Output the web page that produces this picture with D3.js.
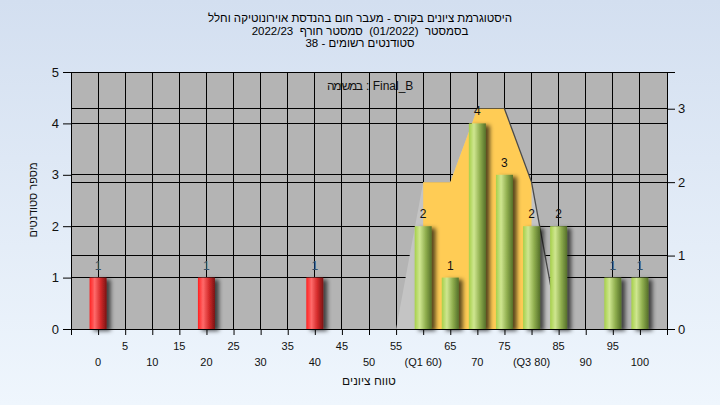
<!DOCTYPE html>
<html><head><meta charset="utf-8">
<script src="https://cdn.jsdelivr.net/npm/d3@7"></script>
<style>
body{margin:0;padding:0;overflow:hidden;}
svg{display:block;font-family:"Liberation Sans",Arial,"DejaVu Sans",sans-serif;}
</style></head>
<body>
<svg id="chart" width="720" height="405"></svg>
<script>
// ---- data ----
const categories = [0,5,10,15,20,25,30,35,40,45,50,55,60,65,70,75,80,85,90,95,100];
const counts     = [1,0,0,0,1,0,0,0,1,0,0,0,2,1,4,3,2,2,0,1,1];
const tickLabels = ["0","5","10","15","20","25","30","35","40","45","50","55","(Q1 60)","65","70","75","(Q3 80)","85","90","95","100"];
const curveCats   = [55,60,65,70,75,80,85];
const curveValues = [0,2,2,3,3,2,0];
const leftTicks  = [0,1,2,3,4,5];
const rightTicks = [0,1,2,3];
const passMark = 55, q1 = 60, q3 = 80;
const titleLines = [
  "היסטוגרמת ציונים בקורס - מעבר חום בהנדסת אוירונוטיקה וחלל",
  "בסמסטר  (01/2022)  סמסטר חורף  2022/23",
  "סטודנטים רשומים - 38"
];
const innerLabelHe = "במשימה";
const innerLabelEn = ": Final_B";
const xTitle = "טווח ציונים";
const yTitle = "מספר סטודנטים";

// ---- layout ----
const L = 71, R = 667, T = 72, B = 329;
const svg = d3.select("#chart");
const defs = svg.append("defs");

const bg = defs.append("linearGradient").attr("id","bg").attr("x1",0).attr("y1",0).attr("x2",0).attr("y2",1);
bg.append("stop").attr("offset","0%").attr("stop-color","#d3dff0");
bg.append("stop").attr("offset","100%").attr("stop-color","#eff6fd");

function barGrad(id, stops){
  const g = defs.append("linearGradient").attr("id",id).attr("x1",0).attr("y1",0).attr("x2",1).attr("y2",0);
  stops.forEach(s=>g.append("stop").attr("offset",s[0]).attr("stop-color",s[1]));
}
barGrad("gRed",[["0%","#ff2020"],["30%","#ff6a6a"],["65%","#d42a2a"],["100%","#7a1414"]]);
barGrad("gGreen",[["0%","#a6d04a"],["30%","#cfe690"],["65%","#8fae4e"],["100%","#55702a"]]);

const f = defs.append("filter").attr("id","shadow").attr("x","-50%").attr("y","-20%").attr("width","200%").attr("height","140%");
f.append("feDropShadow").attr("dx",4).attr("dy",2).attr("stdDeviation",2).attr("flood-color","#000").attr("flood-opacity",0.65);

const clipQ = defs.append("clipPath").attr("id","clipQ");

svg.append("rect").attr("width",720).attr("height",405).attr("fill","url(#bg)");

const x = d3.scalePoint().domain(categories).range([L,R]).padding(1);
const yL = d3.scaleLinear().domain([0,5]).range([B,T]);
const yR = d3.scaleLinear().domain([0,3.5]).range([B,T]);

clipQ.append("rect").attr("x",x(q1)).attr("y",T).attr("width",x(q3)-x(q1)).attr("height",B-T);

// plot background
svg.append("rect").attr("x",L).attr("y",T).attr("width",R-L).attr("height",B-T).attr("fill","#b4b4b4");

// inner label (under the grid)
svg.append("text").attr("x",327).attr("y",90).attr("text-anchor","start").attr("font-size",12).attr("fill","#111")
  .attr("textLength",36).attr("lengthAdjust","spacing").text(innerLabelHe);
svg.append("text").attr("x",366).attr("y",90).attr("text-anchor","start").attr("font-size",12).attr("fill","#111")
  .style("white-space","pre").text(innerLabelEn);

// grid
const grid = svg.append("g").attr("stroke","#000").attr("stroke-width",1).attr("shape-rendering","crispEdges");
categories.forEach(c=>grid.append("line").attr("x1",x(c)).attr("x2",x(c)).attr("y1",T).attr("y2",B));
leftTicks.forEach(t=>grid.append("line").attr("x1",L).attr("x2",R).attr("y1",yL(t)).attr("y2",yL(t)));
rightTicks.forEach(t=>grid.append("line").attr("x1",L).attr("x2",R).attr("y1",yR(t)).attr("y2",yR(t)));

// distribution area
const curve = curveCats.map((c,i)=>({c, v:curveValues[i]}));
const area = d3.area().x(d=>x(d.c)).y0(yR(0)).y1(d=>yR(d.v));
svg.append("path").datum(curve).attr("d",area).attr("fill","#c4c4c4");
svg.append("path").datum(curve).attr("d",area).attr("fill","#ffcc55").attr("clip-path","url(#clipQ)");
const line = d3.line().x(d=>x(d.c)).y(d=>yR(d.v));
svg.append("path").datum(curve.filter(d=>d.c>=75)).attr("d",line).attr("fill","none").attr("stroke","#4a4a4a").attr("stroke-width",1.3);

// border + axes
svg.append("rect").attr("x",L).attr("y",T).attr("width",R-L).attr("height",B-T).attr("fill","none").attr("stroke","#000").attr("shape-rendering","crispEdges");

const axL = d3.axisLeft(yL).tickValues(leftTicks).tickSize(8).tickPadding(4).tickFormat(d3.format("d"));
const gL = svg.append("g").attr("transform",`translate(${L},0)`).call(axL);
const axR = d3.axisRight(yR).tickValues(rightTicks).tickSize(8).tickPadding(3).tickFormat(d3.format("d"));
const gR = svg.append("g").attr("transform",`translate(${R},0)`).call(axR);
[gL,gR].forEach(g=>{
  g.select(".domain").attr("stroke","#000");
  g.selectAll(".tick line").attr("stroke","#000");
  g.selectAll("text").attr("font-size",13).attr("fill","#111").attr("font-family","Liberation Sans, Arial, sans-serif");
});

const axB = d3.axisBottom(x).tickSize(6).tickFormat("");
const gB = svg.append("g").attr("transform",`translate(0,${B})`).call(axB);
gB.select(".domain").attr("stroke","#000");
gB.selectAll(".tick line").attr("stroke","#000");
const xl = svg.append("g").attr("font-size",11).attr("fill","#111").attr("text-anchor","middle");
categories.forEach((c,i)=>{
  xl.append("text").attr("x",x(c)).attr("y", i%2===1 ? 350 : 366).text(tickLabels[i]);
});

// bars
const bw = 17;
const bars = svg.append("g");
categories.forEach((c,i)=>{
  if(!counts[i]) return;
  bars.append("rect")
    .attr("x",x(c)-bw/2).attr("y",yL(counts[i]))
    .attr("width",bw).attr("height",yL(0)-yL(counts[i]))
    .attr("fill", c < passMark ? "url(#gRed)" : "url(#gGreen)")
    .attr("filter","url(#shadow)");
  const inQ = c >= q1 && c <= q3;
  bars.append("text").attr("x",x(c)).attr("y",yL(counts[i])-8)
    .attr("text-anchor","middle").attr("font-size",12)
    .attr("fill", (counts[i] === 1 && !inQ) ? "#34506a" : "#111")
    .text(counts[i]);
});

// titles
const tt = svg.append("g").attr("font-size",11.5).attr("fill","#000").attr("text-anchor","middle");
titleLines.forEach((s,i)=>{
  tt.append("text").attr("x",360).attr("y",22+i*12.5).attr("direction","rtl")
    .style("unicode-bidi","embed").style("white-space","pre").text(s);
});
svg.append("text").attr("x",369).attr("y",385).attr("text-anchor","middle").attr("font-size",12).attr("fill","#111")
  .attr("direction","rtl").style("unicode-bidi","embed").text(xTitle);
svg.append("text").attr("transform","translate(37,200) rotate(-90)").attr("text-anchor","middle").attr("font-size",11).attr("fill","#111")
  .attr("direction","rtl").style("unicode-bidi","embed").text(yTitle);
</script>
</body></html>
